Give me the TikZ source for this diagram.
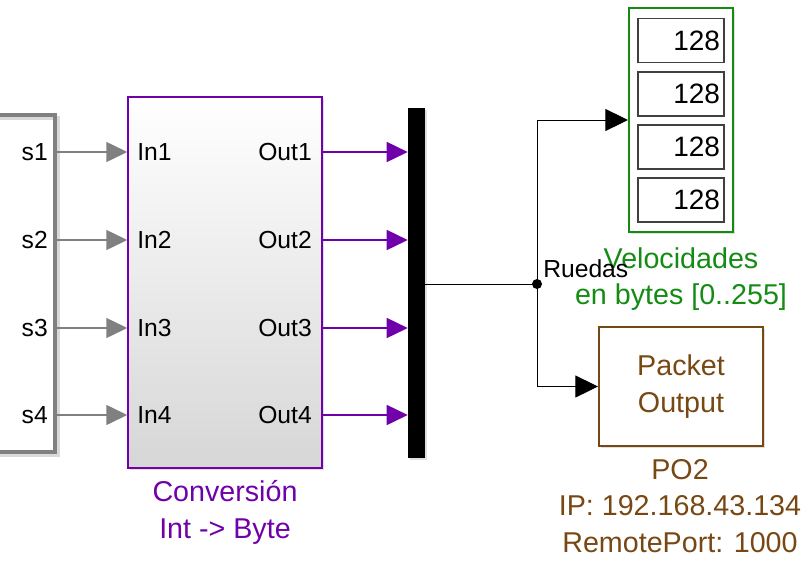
\documentclass[tikz,border=0pt]{standalone}
\usepackage{fontspec}
\setmainfont{Liberation Sans}
\usepackage{tikz}
\usetikzlibrary{arrows.meta,fit,shadows}
\definecolor{convcol}{RGB}{112,0,170}
\definecolor{velocol}{RGB}{20,140,20}
\definecolor{pktcol}{RGB}{120,72,20}
\definecolor{buscol}{RGB}{128,128,128}
\tikzset{
  portlbl/.style={font=\fontsize{18.5}{22}\selectfont, inner sep=0pt},
  caplbl/.style={font=\fontsize{21.5}{27.5}\selectfont, align=center, inner sep=0pt},
  blockshadow/.style={drop shadow={shadow xshift=1.5pt, shadow yshift=-1.5pt, fill=black!25}},
  grayarrow/.style={draw=buscol, line width=1.1pt, -{Triangle[length=15.75pt,width=15pt]}},
  convarrow/.style={draw=convcol, line width=1.1pt, -{Triangle[length=15.75pt,width=15pt]}},
  sigarrow/.style={draw=black, line width=0.75pt, -{Triangle[length=17pt,width=16.5pt]}},
  dispbox/.style={draw=black!75, line width=0.9pt, fill=white, minimum height=33pt,
    text width=58.5pt, inner xsep=3pt, align=right, font=\fontsize{21}{24}\selectfont}
}
\begin{document}
\begin{tikzpicture}[x=0.75pt,y=-0.75pt]
\useasboundingbox (0,0) rectangle (806,561);

\draw[black!15, line width=3pt] (0,118) -- (58,118) -- (58,455) -- (0,455);
\draw[buscol, line width=3pt] (0,115) -- (55,115) -- (55,452) -- (0,452);

\node[draw=convcol, line width=1.1pt, top color=white, bottom color=black!16,
  blockshadow, inner sep=0pt, fit={(128,97)(322,468)}] (conv) {};
\node[fill=black, inner sep=0pt, blockshadow, fit={(408,108)(425,458)}] (bar) {};

\foreach \i/\y in {1/152,2/240,3/328,4/415}{
  \node[portlbl, anchor=east] (s\i) at (48,\y) {s\i};
  \coordinate (src\i) at (57,\y);
  \node[portlbl, anchor=west] (in\i) at (137,\y) {In\i};
  \node[portlbl, anchor=east] (out\i) at (312,\y) {Out\i};
  \draw[grayarrow] (src\i) -- (conv.west |- src\i);
  \draw[convarrow] (conv.east |- src\i) -- (bar.west |- src\i);
}
\node[caplbl, text=convcol, anchor=north] (convlbl) at (225,480) {Conversión\\Int -> Byte};

\node[draw=velocol, line width=1.5pt, fill=white, blockshadow, inner sep=0pt,
  fit={(629,8)(733,232)}] (velo) {};
\foreach \i/\y in {1/40.5,2/94,3/147,4/200}
  \node[dispbox] (d\i) at (681,\y) {128};
\node[caplbl, text=velocol, anchor=north] (velolbl) at (681,247) {Velocidades\\en bytes [0..255]};

\node[draw=pktcol, line width=1.5pt, fill=white, blockshadow, text=pktcol,
  minimum width=123pt, minimum height=89.25pt, caplbl] (pkt) at (681,386.5) {Packet\\Output};
\node[caplbl, text=pktcol, anchor=north] (pktlbl) at (680,459) {PO2\\IP: 192.168.43.134\\RemotePort: 1000};

\coordinate (split) at (537,284);
\draw[line width=0.75pt] (bar.east |- split) -- (split);
\fill (split) circle (5);
\node[portlbl, anchor=base west] (ruedas) at (543,277) {Ruedas};
\draw[sigarrow] (split) |- (velo.west);
\draw[sigarrow] (split) |- (pkt.west);
\end{tikzpicture}
\end{document}
